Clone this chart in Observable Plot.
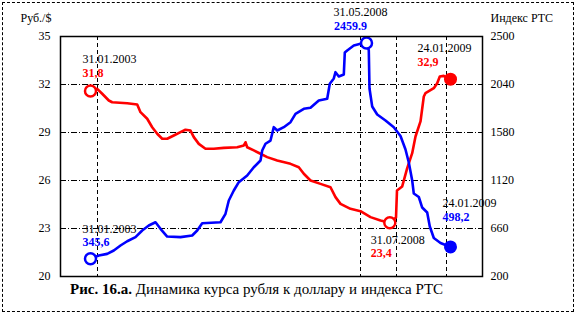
<!DOCTYPE html>
<html><head><meta charset="utf-8">
<script src="https://cdn.jsdelivr.net/npm/d3@7"></script>
<script src="https://cdn.jsdelivr.net/npm/@observablehq/plot@0.6"></script>
<style>
body{margin:0;background:#fff;}
#wrap{position:relative;width:578px;height:314px;font-family:"Liberation Serif","Times New Roman",serif;overflow:hidden;}
#border{position:absolute;left:2px;top:2px;width:572px;height:310px;border:1px dashed #000;box-sizing:border-box;pointer-events:none;}
#cap{position:absolute;left:70px;top:280px;font-size:15px;line-height:18px;white-space:nowrap;color:#000;}
#chart{position:absolute;left:0;top:0;}
</style></head><body>
<div id="wrap"><div id="chart"></div><div id="border"></div><div id="cap"><b>Рис. 16.а.</b> Динамика курса рубля к доллару и индекса РТС</div></div>
<script>
// observation index (irregular time axis, no labels) and values
const rubT = [0,6.7,11.7,18.3,21.7,36.7,46.7,50,56.7,61.7,66.7,71.7,76.7,83.3,90,95,100,103.3,108.3,115,123.3,133.3,146.7,153.3,155,156.7,163.3,170,176.7,186.7,200,208.3,213.3,220,230,240,245,250,260,270,280,290,299.3,305.5,306.5,311.7,316.7,321.7,325,330,333.3,335,343.3,346.7,349.3,353.3,360];
const rubV = [31.6,31.73,31.42,31.0,30.89,30.83,30.75,30.27,29.86,29.33,28.92,28.61,28.61,28.81,29.02,29.17,29.12,28.71,28.29,27.98,27.98,28.04,28.08,28.19,28.39,28.08,27.88,27.67,27.46,27.25,27.04,26.83,26.42,26.0,25.79,25.58,24.96,24.54,24.23,24.08,23.71,23.5,23.36,23.69,25.38,25.63,26.77,27.71,28.75,29.69,31.25,31.46,31.77,32.08,32.5,32.54,32.33];
const rtsT = [0,8.3,16.7,23.3,30,36.7,45,51.7,58.3,65,70,76.7,90,101.7,106.7,111.7,130,135,138.3,143.3,148.3,156.7,163.3,170,171.7,175,180,183.3,186.7,193.3,200,205,213.3,220,228.3,236.7,239.3,243.3,245,248.3,253.3,254.3,256.7,263.3,270,276,278.3,279,281.7,286.7,295,303.3,310,315,318.3,321.7,323.3,328.3,331.7,336.7,339.3,343.3,350,360];
const rtsV = [370,401,417,449,497,538,577,641,689,720,657,583,577,593,641,711,720,801,928,1024,1104,1168,1247,1312,1407,1472,1503,1631,1599,1631,1679,1759,1807,1817,1887,1903,2047,2098,2158,2117,2136,2347,2366,2414,2430,2438,2366,2002,1829,1752,1695,1631,1546,1417,1292,1120,995,962,861,813,679,569,521,483];
const rubTicks = [20,23,26,29,32,35];
const rtsTicks = [200,660,1120,1580,2040,2500];
const gridRub = [23,26,29,32];
const gridT = [7,270,306,356];
const labelRub = "Руб./$";
const labelRts = "Индекс РТС";
const annRubStart = ["31.01.2003","31,8"];
const annRtsStart = ["31.01.2003","345,6"];
const annRtsPeak = ["31.05.2008","2459.9"];
const annRubMin = ["31.07.2008","23,4"];
const annRubEnd = ["24.01.2009","32,9"];
const annRtsEnd = ["24.01.2009","498,2"];

const rub = rubT.map((t,i)=>({t, v: rubV[i]}));
const toY = v => 20 + (v - 200) * 15 / 2300;
const fromY = y => 200 + (y - 20) * 2300 / 15;
const rts = rtsT.map((t,i)=>({t, v: toY(rtsV[i])}));

const rubMin = rub.reduce((a,b)=> b.v < a.v ? b : a);
const rtsMax = rts.reduce((a,b)=> b.v > a.v ? b : a);
const openPts = [
  {...rub[0], c:"#ff0000"}, {...rubMin, c:"#ff0000"},
  {...rts[0], c:"#0000ff"}, {...rtsMax, c:"#0000ff"}
];
const filledPts = [{...rub[rub.length-1], c:"#ff0000"}, {...rts[rts.length-1], c:"#0000ff"}];

function ann(p, texts, color, dx, dy1, dy2, anchor) {
  return [
    Plot.text([p], {x:"t", y:"v", text: () => texts[0], fill:"#000", dx, dy: dy1, textAnchor: anchor, fontSize: 12}),
    Plot.text([p], {x:"t", y:"v", text: () => texts[1], fill: color, fontWeight: "bold", dx: anchor === "middle" ? dx - 10 : dx, dy: dy2, textAnchor: anchor, fontSize: 12})
  ];
}

const chart = Plot.plot({
  width: 578, height: 314,
  marginLeft: 60, marginRight: 96, marginTop: 36, marginBottom: 38,
  style: {fontFamily: "'Liberation Serif','Times New Roman',serif", fontSize: "12px", background: "transparent", overflow: "visible", color: "#000"},
  x: {domain: [-30, 392], axis: null},
  y: {domain: [20, 35], axis: null},
  marks: [
    Plot.ruleY(gridRub, {stroke: "#000", strokeWidth: 1, strokeDasharray: "6,2,1,2"}),
    Plot.ruleX(gridT, {stroke: "#000", strokeWidth: 1, strokeDasharray: "4,3"}),
    Plot.axisY({anchor: "left", ticks: rubTicks, tickSize: 0, tickPadding: 10, tickFormat: d => String(d), label: null, fontSize: 12}),
    Plot.axisY({anchor: "right", ticks: rtsTicks.map(toY), tickSize: 0, tickPadding: 8, tickFormat: d => String(Math.round(fromY(d))), label: null, fontSize: 12}),
    Plot.line(rub, {x: "t", y: "v", stroke: "#ff0000", strokeWidth: 2.6, curve: "linear"}),
    Plot.line(rts, {x: "t", y: "v", stroke: "#0000ff", strokeWidth: 2.6, curve: "linear"}),
    Plot.dot(openPts, {x: "t", y: "v", r: 5.5, stroke: "c", fill: "white", strokeWidth: 2.5}),
    Plot.dot(filledPts, {x: "t", y: "v", r: 6.5, fill: "c", stroke: "none"}),
    Plot.frame({stroke: "#000", strokeWidth: 1.5}),
    Plot.text([labelRub], {frameAnchor: "top-left", text: d => d, dx: -40, dy: -23.5, textAnchor: "start", fontSize: 12}),
    Plot.text([labelRts], {frameAnchor: "top-right", text: d => d, dx: 8, dy: -23.5, textAnchor: "start", fontSize: 12}),
    ...ann(rub[0], annRubStart, "#ff0000", -8, -32, -18, "start"),
    ...ann(rts[0], annRtsStart, "#0000ff", -8, -30, -17, "start"),
    ...ann(rtsMax, annRtsPeak, "#0000ff", -6, -30.5, -16.5, "middle"),
    ...ann(rub[rub.length-1], annRubEnd, "#ff0000", -33, -31, -17, "start"),
    ...ann(rts[rts.length-1], annRtsEnd, "#0000ff", -8, -43.5, -29.5, "start"),
    ...ann(rubMin, annRubMin, "#ff0000", -19, 17.7, 30.4, "start")
  ]
});
document.getElementById("chart").appendChild(chart);
</script>
</body></html>
